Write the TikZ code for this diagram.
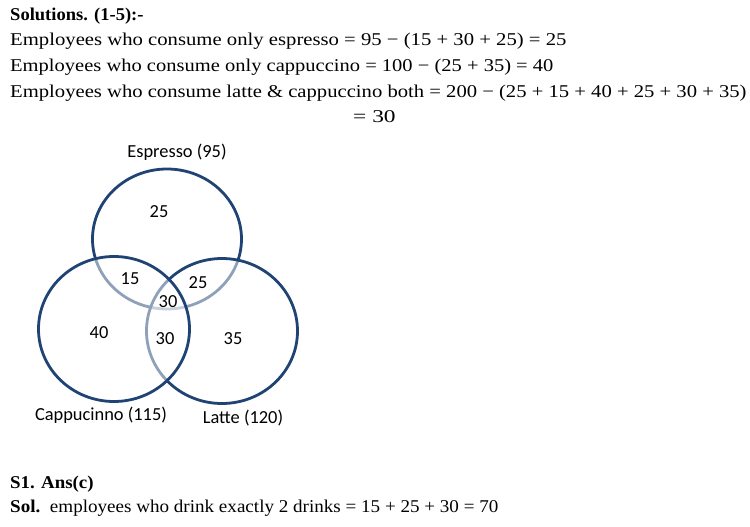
\documentclass[tikz,border=0pt]{standalone}
\usepackage{fontspec}
\setmainfont{Liberation Serif}
\newfontfamily\venfont{Carlito}
\usetikzlibrary{shapes.geometric}
\definecolor{navy}{HTML}{1F4373}
\newcommand{\wide}[2][1.15]{\scalebox{#1}[1]{#2}}
\tikzset{
  txt/.style={anchor=base west, inner sep=0pt, font=\fontsize{18}{20}\selectfont},
  ring/.style={ellipse, draw=navy, line width=2.8pt, fill=white, fill opacity=0.5, inner sep=0pt},
  vlab/.style={font=\venfont\fontsize{18.4}{20}\selectfont, inner sep=0pt}
}
\begin{document}
\begin{tikzpicture}[x=1pt,y=-1pt]
\useasboundingbox (0,0) rectangle (750,527);
\node[txt] (l1) at (10,21) {\wide[1.03]{\textbf{Solutions. (1-5):-}}};
\node[txt] (l2) at (10,46) {\wide{Employees who consume only espresso = 95 − (15 + 30 + 25) = 25}};
\node[txt] (l3) at (10,71) {\wide[1.14]{Employees who consume only cappuccino = 100 − (25 + 35) = 40}};
\node[txt] (l4) at (10,97) {\wide[1.147]{Employees who consume latte \& cappuccino both = 200 − (25 + 15 + 40 + 25 + 30 + 35)}};
\node[txt] (l5) at (353,122) {\wide[1.3]{= 30}};
\node[ring, minimum width=149, minimum height=140] (esp) at (167,239) {};
\node[ring, minimum width=151, minimum height=145] (lat) at (222,331) {};
\node[ring, minimum width=151, minimum height=145] (cap) at (114,329) {};
\node[vlab] (te) at (177,152) {Espresso (95)};
\node[vlab] (tc) at (101,415) {Cappucinno (115)};
\node[vlab] (tl) at (243,418) {Latte (120)};
\node[vlab] (n1) at (159,212) {25};
\node[vlab] (n2) at (130,279) {15};
\node[vlab] (n3) at (198,283) {25};
\node[vlab] (n4) at (168,302) {30};
\node[vlab] (n5) at (99,333) {40};
\node[vlab] (n6) at (165,339) {30};
\node[vlab] (n7) at (233,339) {35};
\node[txt] (s1) at (10,488) {\wide[1.05]{\textbf{S1. Ans(c)}}};
\node[txt] (s2) at (10,512) {\wide[1.06]{\textbf{Sol.}\ \ employees who drink exactly 2 drinks = 15 + 25 + 30 = 70}};
\end{tikzpicture}
\end{document}
